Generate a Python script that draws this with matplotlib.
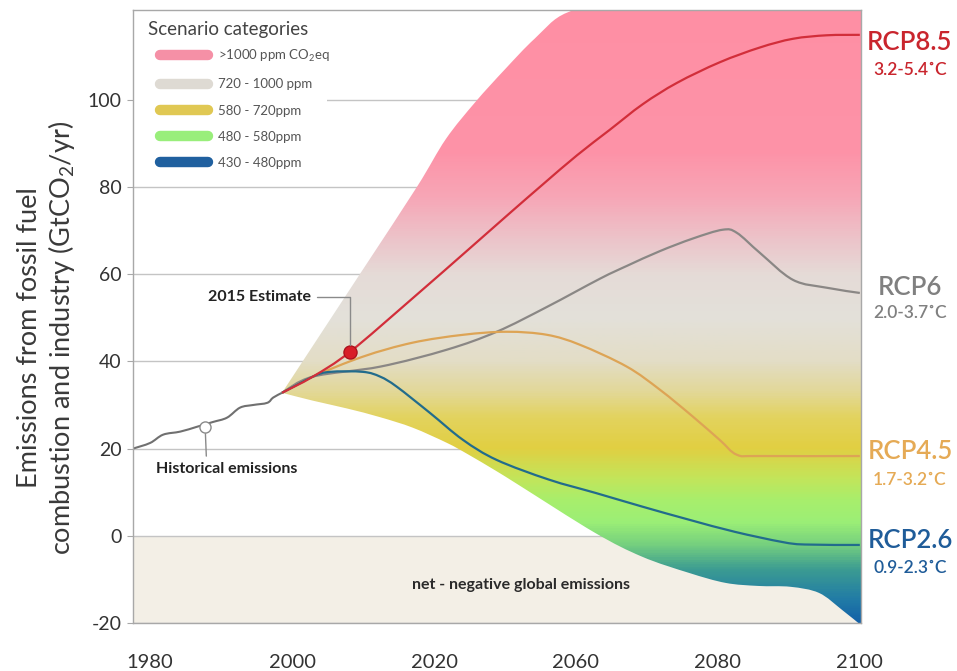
import numpy as np
import matplotlib
matplotlib.use("Agg")
import matplotlib.pyplot as plt
from matplotlib.colors import LinearSegmentedColormap
from matplotlib.patches import Rectangle, PathPatch
from matplotlib.lines import Line2D
from matplotlib.path import Path
import matplotlib.transforms as mtransforms

plt.rcParams['font.family'] = ['Lato', 'DejaVu Sans']
plt.rcParams['mathtext.fontset'] = 'custom'
plt.rcParams['mathtext.rm'] = 'Lato'
plt.rcParams['mathtext.it'] = 'Lato:italic'
plt.rcParams['mathtext.bf'] = 'Lato:bold'

# ---------------- data ----------------
hist_years = [1977.1, 1980.0, 1982.2, 1985.1, 1987.9, 1990.6, 1993.0, 1995.2, 1997.4, 1999.8, 2000.8, 2002.3]
hist_vals = [20.0, 21.3, 23.2, 23.9, 25.0, 26.1, 27.1, 29.4, 30.0, 30.5, 31.7, 32.8]

rcp85_years = [2002.3, 2007.5, 2013.8, 2024.4, 2034.1, 2040.8, 2046.4, 2052.2, 2057.7, 2063.3, 2069.1, 2076.3, 2083.1, 2088.7, 2094.4, 2100.0]
rcp85_vals = [32.8, 36.5, 42.2, 54.5, 66.0, 74.0, 80.6, 87.3, 93.1, 99.0, 103.9, 108.6, 112.0, 114.0, 114.8, 114.9]

rcp6_years = [2002.3, 2007.5, 2018.9, 2030.2, 2038.6, 2047.1, 2056.1, 2060.6, 2066.2, 2071.8, 2076.8, 2079.2, 2083.1, 2088.7, 2094.4, 2100.0]
rcp6_vals = [32.8, 36.5, 38.8, 42.7, 46.8, 52.5, 59.0, 61.9, 65.3, 68.2, 70.2, 69.5, 64.9, 58.7, 56.9, 55.7]

rcp45_years = [2002.3, 2007.5, 2016.0, 2024.4, 2032.9, 2040.3, 2047.1, 2052.7, 2060.6, 2066.2, 2071.8, 2076.3, 2079.2, 2083.1, 2100.0]
rcp45_vals = [32.8, 36.5, 41.1, 44.3, 46.1, 46.8, 46.1, 43.8, 38.8, 33.5, 27.3, 22.0, 18.6, 18.3, 18.3]

rcp26_years = [2002.3, 2007.5, 2010.4, 2016.0, 2018.9, 2021.7, 2027.3, 2032.9, 2038.6, 2047.4, 2055.4, 2063.2, 2071.1, 2078.9, 2086.8, 2090.7, 2100.0]
rcp26_vals = [32.8, 36.5, 37.6, 37.6, 36.5, 34.2, 28.2, 22.0, 17.4, 12.9, 9.8, 6.7, 3.7, 0.9, -1.4, -2.0, -2.1]

fan_upper_years = [2002.3, 2015.5, 2025.1, 2030.0, 2035.0, 2040.0, 2045.0, 2050.5, 2060.0, 2100.2]
fan_upper_vals = [32.8, 60.1, 80.0, 91.0, 99.5, 107.0, 114.0, 120.0, 122.0, 122.0]
fan_lower_years = [2002.3, 2007.5, 2013.3, 2018.9, 2024.4, 2030.2, 2033.6, 2038.6, 2042.5, 2055.2, 2063.2, 2071.1, 2077.3, 2082.8, 2088.3, 2093.1, 2097.0, 2100.2]
fan_lower_vals = [32.8, 31.0, 29.2, 27.2, 24.8, 21.3, 18.8, 14.8, 11.5, 0.7, -4.8, -8.5, -10.8, -11.5, -11.7, -13.1, -17.0, -20.5]

estimate_2015 = (2013.8, 42.2)
hist_marker = (1989.3, 25.0)

y_ticks = [-20, 0, 20, 40, 60, 80, 100]
x_tick_pos = [1980, 2004, 2028, 2052, 2076, 2100]
x_tick_labels = ['1980', '2000', '2020', '2060', '2080', '2100']

legend_title = 'Scenario categories'
legend_labels = ['>1000 ppm CO$_2$eq', '720 - 1000 ppm', '580 - 720ppm', '480 - 580ppm', '430 - 480ppm']
legend_colors = ['#F590A6', '#DEDAD3', '#E0C853', '#99EE7B', '#20609F']

rcp_names = ['RCP8.5', 'RCP6', 'RCP4.5', 'RCP2.6']
rcp_ranges = ['3.2-5.4˚C', '2.0-3.7˚C', '1.7-3.2˚C', '0.9-2.3˚C']
rcp_label_y = [113.1, 56.9, 19.3, -1.1]
rcp_range_y = [106.9, 51.1, 12.8, -7.3]
rcp_text_colors = ['#C9252D', '#808080', '#E5AA55', '#1F5C99']
rcp_line_colors = ['#D22E3A', '#8A8785', '#DDA455', '#226C8C']

grad_y = [-20, -15, -8, -2, 3, 8, 13, 20, 27, 33, 40, 50, 60, 68, 78, 88, 122]
grad_colors = ['#1462A8', '#217BA6', '#3C9C92', '#78D27E', '#9CEF76', '#A8EE6C', '#C3E55A',
               '#E1CF42', '#E3D35E', '#E2D898', '#E3DDC6', '#E3E1DA', '#E5DBD7', '#ECC4CA',
               '#F7A6B6', '#FD93A8', '#FF8FA4']


def smooth_verts(xs, ys):
    """Catmull-Rom through the read points, expressed as cubic Bezier segments."""
    pts = np.column_stack([xs, ys]).astype(float)
    n = len(pts)
    verts = [pts[0]]
    codes = [Path.MOVETO]
    for i in range(n - 1):
        p0 = pts[i - 1] if i > 0 else pts[i]
        p1, p2 = pts[i], pts[i + 1]
        p3 = pts[i + 2] if i + 2 < n else pts[i + 1]
        verts += [p1 + (p2 - p0) / 6.0, p2 - (p3 - p1) / 6.0, p2]
        codes += [Path.CURVE4] * 3
    return verts, codes


def smooth_path(xs, ys):
    v, c = smooth_verts(xs, ys)
    return Path(v, c)


# ---------------- figure ----------------
W, H = 957, 671
fig = plt.figure(figsize=(W / 100, H / 100), dpi=100)
ax = fig.add_axes([133 / W, 1 - 623 / H, (861 - 133) / W, (623 - 10) / H])
XMIN, XMAX, YMIN, YMAX = 1977.1, 2100.2, -20, 120.6

# net-negative region
ax.axhspan(YMIN, 0, color='#F3EFE6', zorder=0.3, lw=0)

# gradient fan clipped to envelope
ylo, yhi = grad_y[0], grad_y[-1]
cmap = LinearSegmentedColormap.from_list(
    'fan', [((v - ylo) / (yhi - ylo), c) for v, c in zip(grad_y, grad_colors)])
yy = np.linspace(ylo, yhi, 600)[:, None]
img = ax.imshow(yy, extent=[XMIN, XMAX, ylo, yhi], origin='lower', aspect='auto',
                cmap=cmap, vmin=ylo, vmax=yhi, zorder=2, interpolation='bilinear')
uv, uc = smooth_verts(fan_upper_years, fan_upper_vals)
lv, lc = smooth_verts(fan_lower_years[::-1], fan_lower_vals[::-1])
lc[0] = Path.LINETO
fan_path = Path(uv + lv + [uv[0]], uc + lc + [Path.CLOSEPOLY])
fan_patch = PathPatch(fan_path, transform=ax.transData, facecolor='none', edgecolor='none')
img.set_clip_path(fan_patch)

# lines
ax.add_patch(PathPatch(smooth_path(hist_years, hist_vals), facecolor='none',
                       edgecolor='#707070', lw=1.5, zorder=4))
for yrs, vals, c in zip([rcp6_years, rcp45_years, rcp26_years, rcp85_years],
                        [rcp6_vals, rcp45_vals, rcp26_vals, rcp85_vals],
                        [rcp_line_colors[1], rcp_line_colors[2], rcp_line_colors[3], rcp_line_colors[0]]):
    ax.add_patch(PathPatch(smooth_path(yrs, vals), facecolor='none', edgecolor=c,
                           lw=1.6, zorder=4, joinstyle='round'))

# markers
ax.plot(*estimate_2015, 'o', ms=9.5, color='#D81E28', mec='#A8101A', mew=0.9, zorder=6)
ax.plot(*hist_marker, 'o', ms=8, mfc='white', mec='#8A8A8A', mew=1.0, zorder=6)

# annotations
ax.annotate('2015 Estimate', xy=estimate_2015, xytext=(2007.2, 54.8),
            ha='right', va='center', fontsize=11.5, fontweight='bold', color='#222222',
            arrowprops=dict(arrowstyle='-', color='#8A8A8A', lw=1, shrinkA=2, shrinkB=5,
                            relpos=(1.0, 0.5),
                            connectionstyle='angle,angleA=0,angleB=90,rad=0'), zorder=7)
ax.annotate('Historical emissions', xy=hist_marker, xytext=(1993.0, 15.4),
            ha='center', va='center', fontsize=11.5, fontweight='bold', color='#222222',
            arrowprops=dict(arrowstyle='-', color='#8A8A8A', lw=1, shrinkA=2, shrinkB=5,
                            relpos=(0.355, 1.0)), zorder=7)
ax.text(2042.7, -11.2, 'net - negative global emissions', ha='center', va='center',
        fontsize=11.5, fontweight='bold', color='#2A2A2A', zorder=7)

# axes styling
ax.set_xlim(XMIN, XMAX)
ax.set_ylim(YMIN, YMAX)
ax.set_yticks(y_ticks)
ax.set_yticklabels([str(v) for v in y_ticks])
ax.set_xticks(x_tick_pos)
ax.set_xticklabels(x_tick_labels)
ax.set_axisbelow(True)
ax.yaxis.grid(True, color='#C4C4C4', lw=1)
ax.xaxis.grid(False)
for s in ax.spines.values():
    s.set_color('#A8A8A8')
    s.set_linewidth(1)
    s.set_zorder(10)
ax.tick_params(axis='y', length=4, color='#A8A8A8', labelsize=14, labelcolor='#333333', pad=4)
ax.tick_params(axis='x', length=0, labelsize=14.5, labelcolor='#333333', pad=22)

# legend background + legend
ax.add_patch(Rectangle((0, (623 - 180) / 613), (327 - 133) / 728, 1 - (623 - 180) / 613,
                       transform=ax.transAxes, facecolor='white', edgecolor='none', zorder=3))
ax.text((148 - 133) / 728, (623 - 30) / 613, legend_title, transform=ax.transAxes,
        ha='left', va='center', fontsize=13.5, color='#444444', zorder=8)
handles = [Line2D([0], [0], color=c, lw=7.5, solid_capstyle='round') for c in legend_colors]
leg = ax.legend(handles, legend_labels, loc='upper left',
                bbox_to_anchor=((160 - 133) / 728, (623 - 48) / 613), frameon=False,
                fontsize=9.5, handlelength=3.6, handletextpad=0.8, labelspacing=1.08,
                borderpad=0, borderaxespad=0)
for t in leg.get_texts():
    t.set_color('#555555')
leg.set_zorder(8)

# right-hand labels
trans = mtransforms.blended_transform_factory(ax.transAxes, ax.transData)
for name, rng, ly, ry, c in zip(rcp_names, rcp_ranges, rcp_label_y, rcp_range_y, rcp_text_colors):
    ax.text(1.0673, ly, name, transform=trans, ha='center', va='center', fontsize=18.5,
            fontweight='semibold', color=c, clip_on=False)
    ax.text(1.0673, ry, rng, transform=trans, ha='center', va='center', fontsize=12.5,
            fontweight='semibold', color=c, clip_on=False)

# y label
fig.text(47 / W, 1 - 338 / H,
         'Emissions from fossil fuel\ncombustion and industry (GtCO$_2$/yr)',
         rotation=90, ha='center', va='center', fontsize=19.5, fontweight='normal',
         color='#3A3A3A', linespacing=1.2)

fig.savefig('out.png', dpi=100)
